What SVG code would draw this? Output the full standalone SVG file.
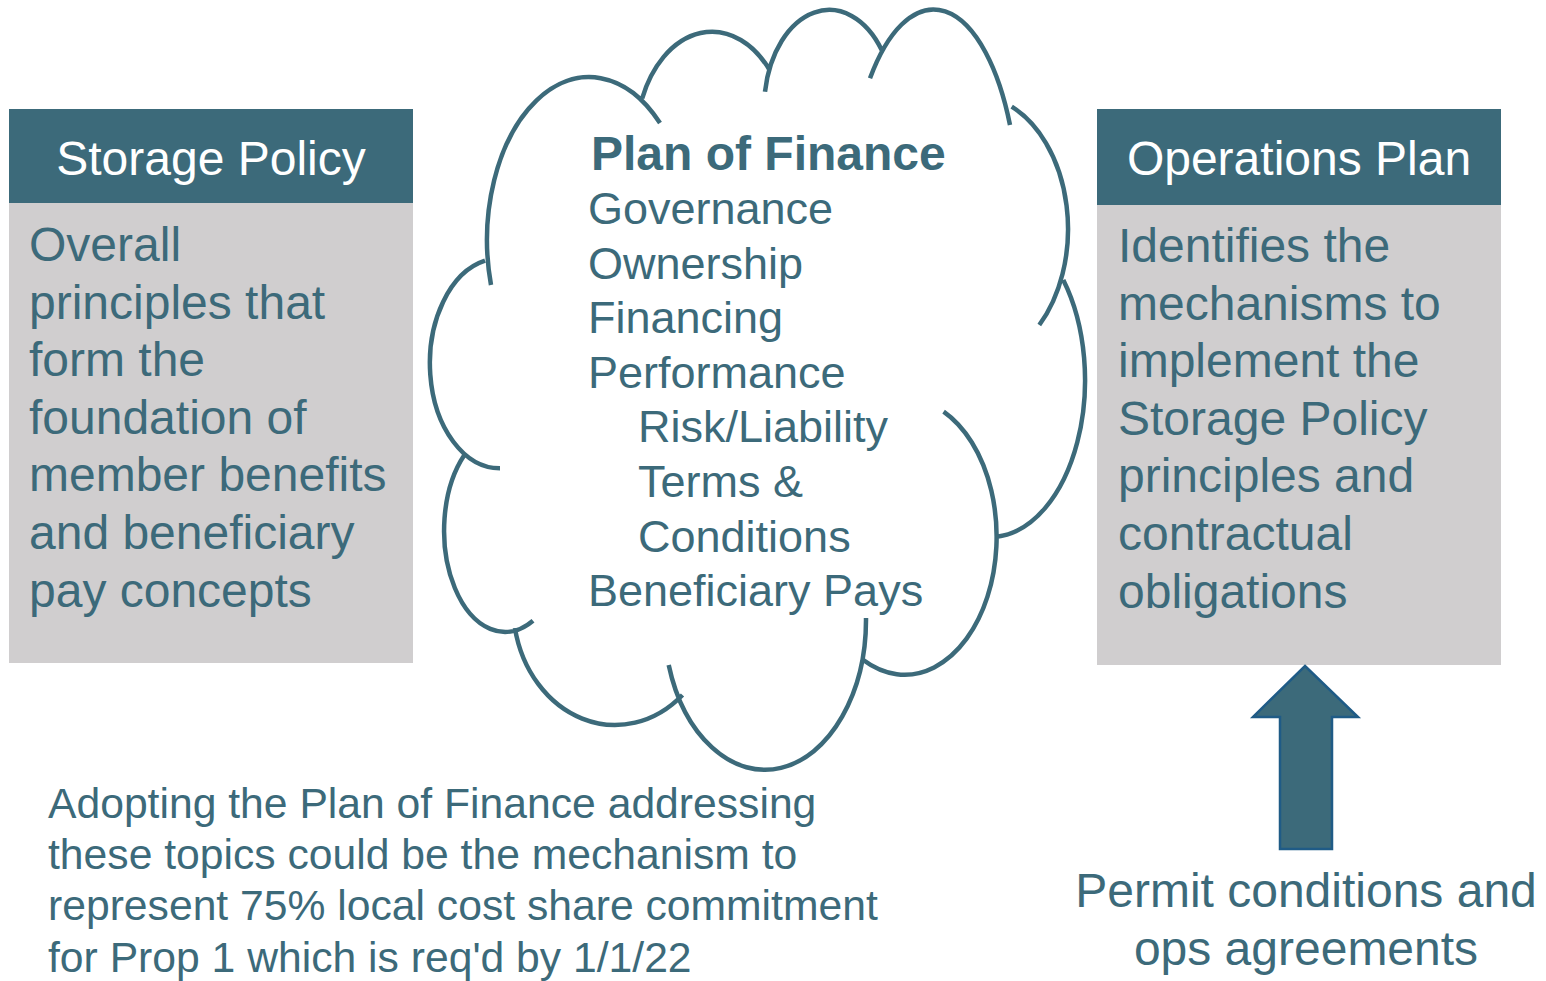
<svg xmlns="http://www.w3.org/2000/svg" width="1546" height="981" viewBox="0 0 1546 981">
<style>
.hdr{fill:#3C6A7A}
.body{fill:#D0CECF}
.ht{font-family:"Liberation Sans",Arial,sans-serif;font-size:48px;fill:#FFFFFF;text-anchor:middle}
.bt{font-family:"Liberation Sans",Arial,sans-serif;font-size:48px;fill:#3C6A7A}
.ct{font-family:"Liberation Sans",Arial,sans-serif;font-size:45px;fill:#3C6A7A}
.ctb{font-family:"Liberation Sans",Arial,sans-serif;font-size:48px;font-weight:bold;fill:#3C6A7A}
.nt{font-family:"Liberation Sans",Arial,sans-serif;font-size:42.67px;fill:#3C6A7A}
.pt{font-family:"Liberation Sans",Arial,sans-serif;font-size:48px;fill:#3C6A7A;text-anchor:middle}
.cloud{fill:none;stroke:#3C6A7A;stroke-width:4.5}
</style>
<rect width="1546" height="981" fill="#FFFFFF"/>
<g id="storage-policy">
<rect class="hdr" x="9" y="109" width="404" height="94"/>
<rect class="body" x="9" y="203" width="404" height="460"/>
<text class="ht" x="211" y="175">Storage Policy</text>
<text class="bt" x="29" y="261">Overall</text>
<text class="bt" x="29" y="318.6">principles that</text>
<text class="bt" x="29" y="376.2">form the</text>
<text class="bt" x="29" y="433.8">foundation of</text>
<text class="bt" x="29" y="491.4">member benefits</text>
<text class="bt" x="29" y="549">and beneficiary</text>
<text class="bt" x="29" y="606.6">pay concepts</text>
</g>
<g id="operations-plan">
<rect class="hdr" x="1097" y="109" width="404" height="96"/>
<rect class="body" x="1097" y="205" width="404" height="460"/>
<text class="ht" x="1299" y="175">Operations Plan</text>
<text class="bt" x="1118" y="262">Identifies the</text>
<text class="bt" x="1118" y="319.6">mechanisms to</text>
<text class="bt" x="1118" y="377.2">implement the</text>
<text class="bt" x="1118" y="434.8">Storage Policy</text>
<text class="bt" x="1118" y="492.4">principles and</text>
<text class="bt" x="1118" y="550">contractual</text>
<text class="bt" x="1118" y="607.6">obligations</text>
</g>
<g id="plan-of-finance">
<path class="cloud" d="M 491 285 A 102 163 0 0 1 660 123
M 642.2 98.3 A 76 110 0 0 1 769.6 70
M 765 91.7 A 65.1 98 0 0 1 881.7 50
M 870 78.3 A 85 205 0 0 1 1010 125
M 1011.7 106.7 A 94.3 133.6 0 0 1 1039.3 325
M 1063.3 280 A 94.8 157 0 0 1 996.7 536.7
M 943.6 411.7 A 92 138 0 1 1 863.3 660
M 866 618 A 101 150 0 0 1 668.7 665
M 682.5 695 A 102 120 0 0 1 514.9 628
M 533 620.7 A 61 101.4 0 0 1 464.4 455
M 500 468.3 A 70 105 0 0 1 485 260.7"/>
<text class="ctb" x="591" y="170">Plan of Finance</text>
<text class="ct" x="588" y="224">Governance</text>
<text class="ct" x="588" y="278.6">Ownership</text>
<text class="ct" x="588" y="333.2">Financing</text>
<text class="ct" x="588" y="387.8">Performance</text>
<text class="ct" x="638" y="442.4">Risk/Liability</text>
<text class="ct" x="638" y="497">Terms &amp;</text>
<text class="ct" x="638" y="551.6">Conditions</text>
<text class="ct" x="588" y="606.2">Beneficiary Pays</text>
</g>
<g id="note">
<text class="nt" x="48" y="818">Adopting the Plan of Finance addressing</text>
<text class="nt" x="48" y="869.2">these topics could be the mechanism to</text>
<text class="nt" x="48" y="920.4">represent 75% local cost share commitment</text>
<text class="nt" x="48" y="971.6">for Prop 1 which is req'd by 1/1/22</text>
</g>
<g id="connectors">
<polygon points="1305,666 1358,717 1332,717 1332,849 1280,849 1280,717 1253,717" fill="#3C6A7A" stroke="#1F5B86" stroke-width="2.5" stroke-linejoin="miter"/>
</g>
<g id="permit">
<text class="pt" x="1306" y="907">Permit conditions and</text>
<text class="pt" x="1306" y="964.6">ops agreements</text>
</g>
</svg>
